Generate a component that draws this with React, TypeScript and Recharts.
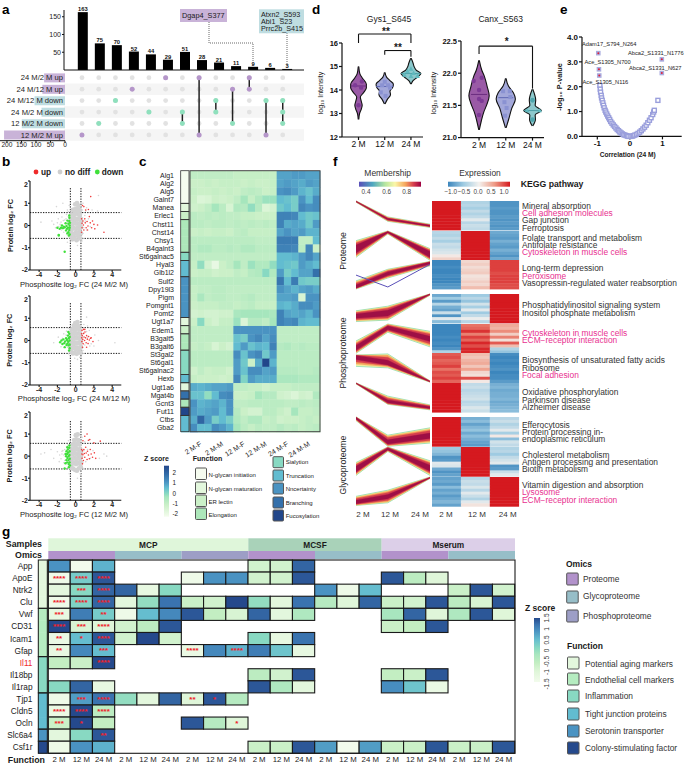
import React from "react";
import {
  Area, Bar, BarChart, Cell, ComposedChart, LabelList, Line, ReferenceArea, ReferenceLine,
  Scatter, ScatterChart, XAxis, YAxis,
} from "recharts";

const FONT = "'Liberation Sans', Arial, sans-serif";

/* ---------- panel a ---------- */
const upsetCounts = [163, 75, 70, 52, 44, 29, 51, 28, 21, 11, 9, 6, 3];
const upsetRows = ["24 M/2 M up", "24 M/12 M up", "24 M/12 M down", "24 M/2 M down", "12 M/2 M down", "12 M/2 M up"];
const upsetSetSizes = [72, 78, 105, 81, 149, 210];
const upsetRowKinds = ["up", "up", "down", "down", "down", "up"];
const upsetSets = [[5], [4], [2], [1], [3], [0], [3, 4], [0, 5], [2, 3], [1, 4], [0, 1], [2, 5], [2, 3, 4]];

/* ---------- panel b ---------- */
const b1Core = [[-.55,-.5],[-.35,-.62],[-.15,-.55],[.1,-.66],[.3,-.5],[.5,-.58],[-.58,-.3],[-.4,-.35],[-.2,-.4],[.02,-.33],[.22,-.38],[.42,-.3],[.56,-.36],[-.55,-.1],[-.38,-.15],[-.18,-.12],[.05,-.16],[.25,-.1],[.44,-.14],[.58,-.08],[-.57,.1],[-.36,.06],[-.16,.12],[.04,.08],[.24,.1],[.46,.05],[.57,.13],[-.52,.3],[-.33,.28],[-.14,.33],[.06,.28],[.26,.3],[.47,.34],[.56,.26],[-.46,.5],[-.28,.48],[-.1,.52],[.08,.55],[.28,.5],[.46,.5],[-.3,.7],[-.1,.72],[.1,.75],[.3,.7],[.45,.68],[-.05,.95],[.15,1.0],[.3,.88]];
const b1Grey = [[-3.8,.15],[-2.6,.2],[-2.2,-.1],[-1.9,.3],[-1.6,.15],[-1.3,-.3],[-2.4,.05],[-1,.5],[-.9,.7],[-1.2,.25],[-.8,.4],[-1.5,.38],[-.7,.9],[.8,1],[1.2,.8],[2.5,1.35],[1.8,.7],[2.4,.65],[-2.1,.85],[-.9,-.75],[.7,-.7],[.2,-.9],[1.1,.65],[.75,.7],[-1.4,1],[-.8,.62],[-1.7,.05],[-1.55,-.2],[-1.35,.22],[-1.2,-.12],[-1.05,.3],[-.95,-.4],[-.85,.15],[-.75,-.25],[-2,.12],[-1.85,-.05],[.75,.35],[.9,-.1],[1.05,.2],[1.2,-.2],[1.4,.3],[.8,-.35],[1.6,-.05],[1,.45]];
const b1Green = [[-.65,-.4],[-.7,-.2],[-.66,0],[-.7,.2],[-.68,.35],[-.8,-.3],[-.85,-.1],[-.8,.08],[-.9,.22],[-.95,-.15],[-1,-.02],[-1.05,-.22],[-1.1,.1],[-1.2,-.08],[-1.3,-.05],[-1.4,-.12],[-1.5,0],[-1.6,-.1],[-1.75,-.15],[-1.85,-.42],[-2,-.1],[-1.85,-.45],[-1.2,-1.18],[-.75,-.45],[-.7,.45],[-.65,-.1],[-.9,-.35],[-.62,.12]];
const b1Red = [[.65,.3],[.7,.1],[.7,-.1],[.8,.2],[.85,.02],[.9,-.2],[1,.3],[1.05,.12],[1.15,-.1],[1.25,.18],[1.35,-.02],[1.5,.4],[1.6,.12],[1.75,-.1],[1.85,.2],[2,.05],[2.1,-.15],[.75,.9],[.9,.85],[1.1,.7],[1.4,.72],[1.65,1.3],[3.1,-.3],[2.4,.02],[.65,-.3],[1.3,-.2]];
const b2Core = [[-.55,-.5],[-.3,-.58],[-.1,-.55],[.12,-.6],[.35,-.52],[.55,-.55],[-.57,-.32],[-.38,-.36],[-.18,-.3],[.03,-.38],[.25,-.32],[.45,-.36],[.58,-.3],[-.56,-.1],[-.36,-.14],[-.16,-.08],[.05,-.14],[.27,-.1],[.46,-.12],[.58,-.06],[-.55,.12],[-.34,.08],[-.14,.14],[.06,.1],[.26,.12],[.45,.08],[.56,.14],[-.5,.32],[-.3,.3],[-.1,.34],[.1,.3],[.3,.32],[.48,.3],[-.4,.5],[-.18,.52],[0,.5],[.22,.55],[.42,.5],[-.2,.66],[.05,.7],[.3,.64],[-.05,.78],[.2,.82]];
const b2Grey = [[-2.4,-.1],[-1.9,.15],[-1.6,-.28],[-1.3,.3],[-1,.42],[-.8,.55],[-.75,-.6],[1.7,-.15],[2.1,.25],[2.5,0],[2,-.25],[4.3,-.1],[1.2,.4],[1.3,.65],[.9,.72],[1.2,1.05],[.8,-.45],[1.5,.45],[.2,-.85],[.45,-.75],[-.1,-.8],[-1.45,.1],[-1.2,-.1],[-1.05,.25],[-.9,-.3],[-.75,.1],[-.7,-.22],[.7,-.25],[.8,.3],[1,-.2],[1.3,.15],[1.55,-.25]];
const b2Green = [[-.65,-.35],[-.66,-.18],[-.68,0],[-.65,.16],[-.7,.3],[-.78,-.22],[-.82,-.06],[-.76,.1],[-.85,.22],[-.9,-.14],[-.95,.02],[-1,-.2],[-1.05,.1],[-1.15,-.04],[-1.25,-.12],[-1.35,.05],[-1.45,-.16],[-1.55,0],[-1.7,-.08],[-1.2,-.3],[-.72,-.45],[-.8,.38]];
const b2Red = [[.65,.3],[.66,.12],[.68,-.05],[.72,.22],[.78,.05],[.82,-.15],[.88,.32],[.92,.16],[.98,0],[1.02,.38],[1.08,.12],[1.15,-.1],[1.2,.22],[1.28,.06],[1.36,-.14],[1.42,.18],[1.5,.02],[1.62,.1],[.7,.45],[.85,.5],[1,.5],[.75,-.3],[1.2,-.3],[1.9,-.05],[1.7,.12]];
const b3Core = [[-.55,-.5],[-.3,-.56],[-.08,-.62],[.14,-.66],[.36,-.55],[.56,-.5],[-.57,-.3],[-.37,-.35],[-.16,-.3],[.04,-.36],[.25,-.3],[.44,-.34],[.58,-.28],[-.56,-.1],[-.36,-.12],[-.15,-.07],[.06,-.13],[.27,-.08],[.47,-.12],[.58,-.04],[-.55,.12],[-.34,.1],[-.13,.14],[.08,.1],[.28,.12],[.46,.08],[.57,.15],[-.5,.32],[-.28,.3],[-.08,.36],[.12,.32],[.32,.3],[.5,.32],[-.38,.52],[-.16,.54],[.04,.5],[.24,.56],[.44,.52],[-.15,.72],[.08,.76],[.3,.72],[.02,.95],[.22,.98]];
const b3Grey = [[-3.8,.1],[-3.4,.15],[-2.7,.3],[-2.4,-.1],[-2,.2],[-1.8,-.25],[-1.5,.1],[-1.3,-.3],[-1.2,.3],[-1,.42],[-.85,.5],[-.8,.7],[.7,.85],[1,.65],[-.7,-.8],[.5,-.8],[.2,-1],[3.1,.1],[2.6,-.1],[3.4,0],[-1.5,.22],[-1.75,.05],[-1.1,.12],[-1.3,.05],[-1.6,-.12],[-1.4,.25],[-1.2,-.2],[-1.05,-.35],[-.9,.2],[-.75,-.4],[.75,-.3],[.9,.25],[1.1,-.25],[1.3,.3],[1.6,-.1],[1.9,.25]];
const b3Green = [[-.62,-.42],[-.66,-.28],[-.64,-.12],[-.68,.05],[-.66,.22],[-.7,.38],[-.76,-.36],[-.8,-.18],[-.78,0],[-.82,.16],[-.86,.3],[-.92,-.28],[-.9,-.08],[-.94,.1],[-1,.22],[-1.02,-.18],[-1.05,0],[-1.1,.1],[-1.12,-.32],[-.75,-.5],[-1.2,-.56],[-.68,.48],[-.9,.4]];
const b3Red = [[.65,.3],[.68,.1],[.7,-.1],[.74,.24],[.8,.06],[.85,-.2],[.9,.3],[.95,.12],[1,-.05],[1.1,.4],[1.15,.14],[1.25,-.15],[1.3,.22],[1.4,.05],[1.5,-.12],[1.6,.3],[1.7,.1],[1.85,-.05],[2.05,.15],[2.2,-.1],[.8,.7],[1,.9],[1.25,1],[1.4,.72],[1.55,.75],[2,.6],[2.7,.68],[.75,-.35]];
const bPlots = [
  { y0: 181, y1: 270, core: b1Core, grey: b1Grey, green: b1Green, red: b1Red, vTop: 1.7, label: "Phosphosite log₂ FC (24 M/2 M)" },
  { y0: 295.7, y1: 384.7, core: b2Core, grey: b2Grey, green: b2Green, red: b2Red, vTop: 1.7, label: "Phosphosite log₂ FC (24 M/12 M)" },
  { y0: 411.7, y1: 500, core: b3Core, grey: b3Grey, green: b3Green, red: b3Red, vTop: 1.65, label: "Phosphosite log₂ FC (12 M/2 M)" },
];

/* ---------- panel c ---------- */
const cGenes = ["Alg1","Alg2","Alg5","Galnt7","Manea","Erlec1","Chst11","Chst14","Chsy1","B4galnt3","St6galnac5","Hyal3","Glb1l2","Sulf2","Dpy19l3","Pigm","Pomgnt1","Pomt2","Ugt1a7","Edem1","B3galt5","B3galt6","St3gal2","St6gal1","St6galnac2","Hexb","Ugt1a6","Mgat4b","Gcnt3","Fut11","Ctbs","Gba2"];
const cGroups = ["2 M-F", "2 M-M", "12 M-F", "12 M-M", "24 M-F", "24 M-M"];
const cMatrix = [
  [-.8,-.8,-.8,-.8,-.8,-.8,-.9,-.9,-.9,-.9,-.9,-.9,.8,.8,.9,.9,.8,.8],
  [-1,-1,-.9,-1,-.9,-.9,-.9,-1,-.9,-1,-1,-.9,.8,.9,.8,.7,.9,.8],
  [-.9,-1,-1,-.9,-1,-.9,-1,-.8,-.7,-.8,-1,-.9,1,1.1,.9,.6,.4,.7],
  [-1,-1.4,-1.3,-1,-1.1,-1,-.8,-.3,-.9,-.5,-.2,-.2,.5,.4,.2,1,.5,1.1],
  [-1.1,-1,-.8,-.3,-.7,-1.3,-.5,-.6,-.1,-.6,-1.4,-1.2,.3,.5,.2,1.2,1,1.1],
  [-.7,-.8,-.7,-.8,-.7,-.8,-.8,-.9,-.9,-1,-1,-1,1.3,1.3,1.2,.5,.3,.4],
  [-.7,-.7,-.8,-.7,-.7,-.8,-.7,-.8,-.7,-.8,-.7,-.8,1.3,.7,.8,.7,.3,.9],
  [-1,-.9,-1,-.9,-.9,-1,-.8,-.7,-.9,-.9,-.9,-.9,.8,1,.8,.9,.6,.6],
  [-.7,-.7,-.7,-.7,-.7,-.7,-.7,-.7,-.7,-.8,-.8,-.8,1.4,1.4,1.4,-.8,-.8,.5],
  [-.7,-.5,-.5,-.7,-.7,-.6,-.7,-.5,-.5,-.7,-.7,-.7,1.3,1.3,1.2,-.7,1.2,-1],
  [-.8,-.8,-.8,-.8,-.8,-.8,-.8,-.8,-.8,-.8,-.8,-.8,.5,.5,.6,.9,1.2,.8],
  [-.9,-.1,-1.2,-1.7,-1,-.8,-.3,-.8,-.2,-.5,-.5,-.1,.5,.4,.3,.9,.7,.5],
  [-1,-.9,-.9,-1.1,-1,-1,-.8,-.9,-.6,-.5,0,-.5,.9,.2,.5,.8,.8,1.6],
  [-.7,-.7,-.7,-.7,-.7,-.7,-.7,-.7,-.7,-.7,-.7,-.7,1.5,.5,1.4,.3,.2,.2],
  [-.9,-.8,-.8,-.7,-.7,-.8,-.8,-.8,-.8,-.8,-.8,-.8,1,.8,.6,.8,.9,.7],
  [-.9,-.4,-.8,-.7,-.7,-.8,-.8,-.7,-.6,-.8,-.8,-.8,.8,.8,.9,-1.3,1,1],
  [-1,-.9,-.9,-.9,-.8,-.8,-.9,-.8,-.7,-.9,-.9,-.9,.6,.5,.7,1.1,1.1,.9],
  [-1.2,-1.1,-1.2,-1.2,-1.1,-1.1,-.4,-.3,-.3,-.3,-.3,-.4,1.3,.8,.7,.8,.6,1],
  [-1,0,-1,-1.2,-.9,-.9,-.2,-1.4,-.6,-.6,-.8,-.3,1.3,1.1,1.2,.6,.5,.5],
  [-.8,-.8,-.8,-.8,-.8,-.8,1,1,1,1,1,1,-.8,-.8,-.8,-.8,-.8,-.8],
  [-.8,-.8,-.8,-.8,-.8,-.8,.4,.2,1,1.2,.8,1.1,-.8,-.8,-.8,-.8,-.8,-.8],
  [-.9,-.8,-.9,-1.3,-1,-1.2,.5,.9,.4,.6,.5,1.3,-.6,-.5,-.7,-.6,-.7,-.7],
  [-.7,-.7,-.7,-.7,-.7,-.7,1.1,.4,1,1.2,.3,.9,-.7,-.7,-.7,-.7,-.7,-.7],
  [-.7,-.7,-.7,-.7,-.7,-.7,.9,.3,-1,.7,2.4,.6,-.7,-.7,-.7,-.7,-.7,-.7],
  [-1.1,-.8,-1,-.9,-.9,-1.1,.9,.4,1.1,1.1,.8,.9,-.6,-.6,-.6,-.7,-.7,-.6],
  [-.9,-1,-1,-1,-1.1,-1,1.2,.1,.9,.7,.7,.7,-.4,-.4,-.4,-.5,-.5,-.5],
  [.7,.6,.7,.8,.8,.9,-.8,-.8,-.9,-.9,-1.1,-.9,-.9,-.9,-.8,-.8,-.8,-.8],
  [.4,.4,-.1,.5,1.1,1.2,-1,-1,-.9,-.3,-.6,-.6,-1.1,-1.2,-1.4,-1.1,-1.2,-.5],
  [1,.6,.7,.8,.6,1,-.8,-.8,-.7,-.7,-.7,-.7,-.7,-.8,-.8,-.7,-.8,-.7],
  [.9,.7,.8,.9,.5,1,-.6,-1,-1.2,-1.2,-.7,-.7,-.9,-1.1,-.3,-.9,-.9,-.8],
  [.7,1.8,.9,.2,.5,.2,-.5,-.8,-.5,-.5,-.9,-.8,-1.1,-1,-1,-.9,-.8,-.9],
  [1.1,.5,.5,1.1,.9,.6,-.3,-.7,-.9,-.7,-.8,-.8,-.6,-.8,-.7,-.9,-.8,-.7],
];
const cFunctions = ["N-glycan initiation","N-glycan maturation","ER lectin","Elongation","Sialytion","Truncation","Nncertainty","Branching","Fucosylation"];
const cFunctionColors = ["#f6fcf0","#e3f7dd","#cbf0c8","#ade7ba","#88d9c2","#62bcd0","#4a93c2","#3470ab","#22468a"];
const cRowFunction = [0,0,0,0,1,2,3,3,3,3,4,5,5,6,6,6,6,6,1,2,3,3,4,4,4,5,1,7,3,8,5,5];

/* ---------- panel d ---------- */
const gysViolins = [
  { pos: 0, y: [12.75,13,13.2,13.35,13.5,13.7,13.9,14.1,14.25,14.5,14.7,15], w: [.01,.04,.11,.14,.11,.07,.2,.3,.3,.15,.05,.01], fill: "#9a5aa6" },
  { pos: 1, y: [13.4,13.6,13.8,13.95,14.1,14.25,14.4,14.55,14.75], w: [.01,.1,.22,.2,.3,.33,.2,.07,.01], fill: "#a3a8da" },
  { pos: 2, y: [14.25,14.4,14.55,14.7,14.85,15,15.15,15.35], w: [.01,.08,.25,.38,.2,.12,.08,.01], fill: "#8cc8cc" },
];
const canxViolins = [
  { pos: 0, y: [21.12,21.25,21.4,21.5,21.65,21.8,21.95,22.05,22.2], w: [.01,.08,.18,.28,.38,.3,.2,.1,.01], fill: "#9a5aa6" },
  { pos: 1, y: [21.15,21.3,21.45,21.6,21.7,21.8,21.92], w: [.01,.12,.22,.36,.28,.1,.01], fill: "#a3a8da" },
  { pos: 2, y: [21.18,21.28,21.35,21.42,21.5,21.58,21.75], w: [.01,.11,.1,.33,.1,.12,.01], fill: "#8cc8cc" },
];
const gysCircles = [{x:.13,y:14.36},{x:-.13,y:14.2},{x:0,y:13.35},{x:.1,y:14.1}];
const gysSquares = [{x:1,y:14.35},{x:.9,y:14.2},{x:1.13,y:14.2},{x:.85,y:13.9},{x:1.03,y:13.75},{x:1.2,y:14.1}];
const gysTriangles = [{x:2,y:14.9},{x:1.75,y:14.65},{x:2.25,y:14.6},{x:2,y:14.6},{x:2.1,y:14.72},{x:1.87,y:14.8}];
const canxCircles = [{x:.1,y:21.93},{x:-.2,y:21.88},{x:0,y:21.74},{x:.1,y:21.57},{x:0,y:21.35},{x:0,y:21.6}];
const canxSquares = [{x:.9,y:21.72},{x:1.15,y:21.72},{x:1.17,y:21.63},{x:.95,y:21.55},{x:1.03,y:21.46},{x:.97,y:21.34}];
const canxCircles2 = [{x:2,y:21.58},{x:2,y:21.28}];
const canxTriangles = [{x:2.27,y:21.42},{x:1.8,y:21.42}];
const gysMedians = [14.17, 14.15, 14.7];
const canxMedians = [21.67, 21.62, 21.42];
const timeLabels = ["2 M", "12 M", "24 M"];

/* ---------- panel e ---------- */
const volcanoLeft = [[-.92,2.05],[-.91,1.9],[-.9,1.78],[-.88,1.65],[-.87,1.55],[-.85,1.45],[-.83,1.35],[-.81,1.25],[-.79,1.15],[-.76,1.05],[-.74,.98],[-.71,.9],[-.68,.82],[-.65,.75],[-.62,.68],[-.59,.6],[-.55,.53],[-.51,.46],[-.47,.4],[-.43,.34],[-.39,.28],[-.35,.23],[-.31,.18],[-.27,.14],[-.23,.1],[-.19,.07],[-.15,.05],[-.11,.03],[-.07,.01],[-.03,0]];
const volcanoRight = [[.03,0],[.07,.01],[.11,.03],[.15,.05],[.2,.08],[.25,.12],[.3,.17],[.35,.23],[.4,.3],[.45,.37],[.5,.45],[.55,.55],[.6,.65],[.65,.75],[.7,.88],[.73,.98],[.75,1.05],[.86,1.45]];
const volcanoHits = [[-.97,3.35],[-.95,2.7],[-.94,2.45],[.98,3.1],[.98,2.55]];
const volcanoLabels = [["Adam17_S794_N264",582,44],["Abca2_S1331_N1776",628,53],["Ace_S1305_N700",584.5,61.5],["Abca2_S1331_N627",629,68],["Ace_S1305_N116",582.5,82]];

/* ---------- panel f ---------- */
const fTimes = [0, .43, 1];
const fBlocks = [[201,230],[230.7,260],[260,289],[294,323],[323.7,353],[353.3,383],[383.3,412.5],[416.7,446],[446.7,476],[476.7,506]];
const ribbons = [
  [[.96,1,.3,.45,.09,.2],[.965,1,.31,.44,.1,.19],[.97,1,.33,.42,.11,.18],[.975,.995,.35,.4,.125,.165]],
  [[.1,.67,.9,1,0,.4],[.13,.64,.91,.995,.02,.38],[.18,.59,.92,.99,.05,.35],[.25,.52,.94,.98,.1,.3]],
  [[0,.28,.38,.68,.8,.95],[.01,.25,.4,.66,.81,.945],[.02,.2,.43,.63,.83,.94],[.03,.14,.47,.59,.86,.93]],
  [[.05,.42,.1,.58,.96,1],[.08,.39,.13,.55,.965,1],[.11,.36,.17,.51,.97,1],[.16,.31,.24,.44,.98,1]],
  [[0,.42,.72,1,.22,.75],[.02,.38,.74,.99,.26,.71],[.05,.33,.77,.97,.32,.66],[.1,.27,.81,.93,.4,.58]],
  [[.55,.93,.5,.97,.02,.06],[.62,.93,.53,.93,.022,.058],[.7,.93,.57,.86,.025,.055],[.78,.92,.6,.76,.03,.05]],
  [[.97,1,.27,.55,.08,.25],[.975,1,.28,.52,.09,.24],[.98,1,.29,.48,.1,.22],[.985,1,.32,.42,.13,.19]],
  [[.88,1,0,.38,.11,.63],[.89,1,.02,.35,.15,.59],[.91,1,.04,.3,.2,.54],[.93,.99,.08,.22,.27,.45]],
  [[.03,.47,.85,1,.03,.53],[.06,.44,.86,.995,.07,.5],[.1,.4,.88,.99,.11,.45],[.15,.34,.9,.97,.17,.38]],
  [[.03,.34,.12,.55,.95,1],[.04,.31,.15,.52,.955,.995],[.06,.27,.2,.47,.96,.99],[.09,.21,.26,.4,.97,.985]],
];
const ribbonFills = ["#f2f2a2", "#f5a45c", "#d53e4f", "#9e0f45"];
const ribbonStrokes = ["#8fdcae", "#f5d07a", "#e0554a", "#9e0f45"];
const outlierLine = [.48, .07, .85];
const fHeat = [
  [[1,-.4,-.9],[1,-.35,-.9],[1,-.45,-.85],[1,-.3,-.9],[1,-.4,-.9],[1,-.3,-.85],[1,-.1,-.9],[1,-.35,-.85],[1,-.25,-.9],[1,-.3,-.85]],
  [[-.35,1,-.75],[-.4,1,-.8],[-.3,1,-.85],[-.45,1,-.7],[-.25,1,-.8],[-.3,1,-.85],[-.2,1,-.7],[-.15,1,-.8],[.05,1,-.9],[.18,1,-.75]],
  [[-1,.15,.85],[-1,.2,.85],[-.95,.12,.85],[-1,.18,.85],[-1,.22,.8],[-.95,.08,.85],[-1,.12,.85],[-1,.2,.85],[-.9,.15,.8],[-.85,.3,.8]],
  [[-.75,-.5,1],[-.5,-.35,1],[-.85,-.55,1],[-.35,-.2,1],[-.7,-.45,1],[-.8,-.1,1],[-.25,-.5,1],[-.9,-.3,1],[-.1,-.05,1],[-.6,-.35,1]],
  [[-1,.65,.4],[-1,.7,.35],[-1,.9,.55],[-1,.6,.2],[-.95,.85,.6],[-1,.7,.1],[-.95,.95,.75],[-1,.8,.3],[-.9,.95,-.4],[-.4,.95,-.55]],
  [[.75,.3,-.95],[.8,.25,-1],[.7,.35,-.95],[.75,.4,-1],[.85,.25,-.95],[.65,.45,-.9],[.8,.15,-1],[.75,.1,-.95],[.85,.8,-.95],[.7,.05,-.85]],
  [[1,-.3,-.7],[1,-.25,-.65],[1,-.35,-.75],[1,-.3,-.7],[1,-.25,-.7],[1,-.2,-.65],[1,-.35,-.75],[1,-.3,-.7],[1,-.15,-.65],[1,-.25,-.6]],
  [[1,-.7,-.35],[1,-.6,-.25],[1,-.8,-.4],[1,-.65,-.3],[1,-.55,-.1],[1,-.75,-.45],[1,-.6,.05],[1,-.7,-.6],[1,-.8,-.2],[1,-.85,-.3]],
  [[-.5,1,-.4],[-.55,1,-.35],[-.65,1,-.5],[-.9,1,-.3],[-.85,1,-.2],[-.1,1,-.1],[-.15,1,-.9],[-.75,1,-.85],[-.9,1,-.25],[-.8,1,-.1]],
  [[-.8,-.35,1],[-.75,-.25,1],[-.85,-.3,1],[-.6,-.15,1],[-.8,-.35,1],[-.7,-.1,1],[-.85,-.25,1],[-.75,-.4,1],[-.65,-.1,1],[-.8,.08,1]],
];
const pathways = [
  ["Mineral absorption",205.7,0],["Cell adhesion molecules",213,1],["Gap junction",220.3,0],["Ferroptosis",227.7,0],
  ["Folate transport and metabolism",238.3,0],["Antifolate resistance",245.3,0],["Cytoskeleton in muscle cells",252.3,1],
  ["Long-term depression",268.3,0],["Peroxisome",275.7,1],["Vasopressin-regulated water reabsorption",282.7,0],
  ["Phosphatidylinositol signaling system",305.3,0],["Inositol phosphate metabolism",312.7,0],
  ["Cytoskeleton in muscle cells",332.7,1],["ECM−receptor interaction",340,1],
  ["Biosynthesis of unsaturated fatty acids",360,0],["Ribosome",367.7,0],["Focal adhesion",374.7,1],
  ["Oxidative phosphorylation",392,0],["Parkinson disease",399.7,0],["Alzheimer disease",406.7,0],
  ["Efferocytosis",424.7,0],["Protein processing in-",431.7,0],["endoplasmic reticulum",438.7,0],
  ["Cholesterol metabolism",454.7,0],["Antigen processing and presentation",461.7,0],["Biotin metabolism",469.3,0],
  ["Vitamin digestion and absorption",485,0],["Lysosome",492,1],["ECM−receptor interaction",499.7,1],
];

/* ---------- panel g ---------- */
const gGenes = ["App","ApoE","Ntrk2","Clu","Vwf","CD31","Icam1","Gfap","Il11","Il18bp","Il1rap","Tjp1","Cldn5","Ocln","Slc6a4","Csf1r"];
const n = null;
const gValues = [
  [.9,-1.5,.6, n,n,n, n,n,n, -.8,-.8,1.3, n,n,n, n,n,n, n,n,n],
  [-1.4,.3,1.4, n,n,n, -1.4,.9,.9, -.8,-.8,1.4, n,n,n, 1.4,-.5,-1, n,n,n],
  [-1.1,.1,1.3, 1.3,-1.2,.1, n,n,n, n,n,n, .9,-1.4,.5, n,n,n, -.7,1.4,-.8],
  [-1.4,.2,1.3, -1.1,0,1.2, -.7,-.8,1.5, 0,-1.1,1.2, -.4,-1,1.3, -.7,-.8,1.4, -.5,-.9,1.4],
  [-1.2,1.1,.3, -1.4,.5,1, 1.4,-.6,-.9, 1.3,-1.1,-.3, n,n,n, -.2,1.3,-1, -.3,1.4,-1],
  [1.5,-.9,-1, -.8,-.5,1.4, n,n,n, n,n,n, n,n,n, -.7,-.6,1.4, n,n,n],
  [-1.3,.5,1.4, -.8,1.5,-.8, n,n,n, .1,-1.2,1.2, n,n,n, n,n,n, n,n,n],
  [-1.2,1,.5, n,n,n, -1.3,1,.6, 1.1,.4,-1.2, n,n,n, n,n,n, n,n,n],
  [-.6,-.7,1.5, n,n,n, n,n,n, n,n,n, n,n,n, n,n,n, n,n,n],
  [n,n,n, n,n,n, n,n,n, -.5,-.8,1.4, n,n,n, -.6,-.7,1.4, n,n,n],
  [.1,1.3,-1.2, n,n,n, n,n,n, 1.4,-.3,-1.1, n,n,n, .95,.4,-1.3, n,n,n],
  [-1.4,.8,1.2, 0,-1.1,1.3, -1,1.4,-.4, n,n,n, n,n,n, n,n,n, n,n,n],
  [-1.3,1.5,-.5, n,n,n, n,n,n, n,n,n, n,n,n, n,n,n, n,n,n],
  [-.7,1.5,-.6, n,n,n, 1.4,-.4,-1, n,n,n, n,n,n, n,n,n, n,n,n],
  [-1.1,.1,1.4, n,n,n, n,n,n, n,n,n, n,n,n, n,n,n, n,n,n],
  [-1.4,.9,.6, n,n,n, n,n,n, -.7,-.7,1.4, .8,-1.5,.8, -.7,-.7,1.4, -.7,-.7,1.4],
];
const gStars = [
  [1,0,"****"],[1,1,"****"],[1,2,"****"],[2,1,"***"],[2,2,"****"],[3,0,"****"],[3,1,"****"],[3,2,"****"],
  [4,0,"***"],[4,2,"**"],[5,0,"****"],[5,1,"***"],[5,2,"****"],[6,0,"**"],[6,1,"*"],[6,2,"****"],
  [7,0,"**"],[7,2,"***"],[7,6,"****"],[7,8,"****"],[8,2,"****"],[11,1,"***"],[11,2,"****"],[11,6,"**"],[11,7,"*"],
  [12,0,"****"],[12,1,"****"],[12,2,"****"],[13,0,"***"],[13,1,"*"],[13,8,"*"],[14,2,"**"],
];
const gFunctions = ["Potential aging markers","Endothelial cell markers","Inflammation","Tight junction proteins","Serotonin transporter","Colony-stimulating factor"];
const gFunctionColors = ["#e3f7dd","#b5ecc0","#88d9c2","#62bcd0","#4a93c2","#25498c"];
const gRowFunction = [0,0,0,0,1,1,1,1,2,2,2,3,3,3,4,5];
const gSamples = [["MCP",9,"#dff6da"],["MCSF",6,"#a9d2b9"],["Mserum",6,"#dccfe8"]];
const gOmics = [["#b292cb",3],["#97bec8",3],["#9d9ec6",3],["#b292cb",3],["#97bec8",3],["#b292cb",3],["#97bec8",3]];
const omicsNames = [["Proteome","#b292cb",573,579],["Glycoproteome","#97bec8",591,596],["Phosphoproteome","#9d9ec6",610,616]];

/* ---------- colour helpers ---------- */
const mix = (stops: any[], v: number) => {
  if (v <= stops[0][0]) return stops[0][1];
  for (let i = 1; i < stops.length; i++) {
    if (v <= stops[i][0]) {
      const t = (v - stops[i - 1][0]) / (stops[i][0] - stops[i - 1][0]);
      const a = stops[i - 1][1], b = stops[i][1];
      const ch = (h: string, k: number) => parseInt(h.slice(1 + 2 * k, 3 + 2 * k), 16);
      const c = [0, 1, 2].map((k) => Math.round(ch(a, k) + (ch(b, k) - ch(a, k)) * t));
      return `rgb(${c.join(",")})`;
    }
  }
  return stops[stops.length - 1][1];
};
const cStops = [[-2,"#f4fcee"],[-1,"#cbf0c8"],[-.3,"#a6e6bd"],[0,"#88d9c2"],[.5,"#62bcd0"],[1,"#4a93c2"],[1.6,"#3470ab"],[2.4,"#22468a"]];
const gStops = [[-1.5,"#f2fbec"],[-1,"#dff6d9"],[-.6,"#c3eec2"],[-.2,"#a8e6bf"],[.1,"#88d9c2"],[.5,"#65bdcf"],[.9,"#4a92c2"],[1.2,"#3a73af"],[1.5,"#25498c"]];
const fStops = [[-1,"#3c86bd"],[-.5,"#9fcbe2"],[0,"#f3f1ee"],[.5,"#ee9a85"],[1,"#d5191f"]];

/* ---------- generic pieces ---------- */
const Box = ({ left, top, children }: any) => (
  <div style={{ position: "absolute", left, top }}>{children}</div>
);

const cellShape = (w: number, h: number, stroke?: string, sw = 0) => (p: any) => (
  <g>
    <rect x={p.cx - w / 2} y={p.cy - h / 2} width={w + (sw ? 0 : .4)} height={h + (sw ? 0 : .4)}
      fill={p.payload.fill} stroke={stroke || "none"} strokeWidth={sw} />
    {p.payload.stars ? (
      <text x={p.cx} y={p.cy + 2.6} textAnchor="middle" fontSize={8} fontWeight={700} fill="#f0222a" fontFamily={FONT}>{p.payload.stars}</text>
    ) : null}
  </g>
);

const HeatMap = ({ x0, y0, x1, y1, cols, rows, cells, stroke, sw = 0, yLabels, xTick, yTick, yw = 0, xh = 0, xTicks }: any) => {
  const W = x1 - x0, H = y1 - y0;
  return (
    <Box left={x0 - yw} top={y0}>
      <ScatterChart width={W + yw} height={H + xh} margin={{ top: 0, right: 0, bottom: 0, left: 0 }}>
        <XAxis type="number" dataKey="x" domain={[0, cols]} hide={!xTicks} ticks={xTicks} interval={0}
          height={xh} axisLine={false} tickLine={false} tick={xTick} />
        <YAxis type="number" dataKey="y" domain={[0, rows]} reversed hide={!yLabels} width={yw}
          ticks={yLabels ? yLabels.map((_: any, i: number) => i + .5) : undefined} interval={0}
          axisLine={false} tickLine={false} tickSize={0} tickMargin={0} tick={yTick} />
        <Scatter data={cells} isAnimationActive={false} shape={cellShape(W / cols, H / rows, stroke, sw)} />
      </ScatterChart>
    </Box>
  );
};

const T = ({ x, y, s = 7, w, c = "#1a1a1a", a = "start", r, children, ls }: any) => (
  <text x={x} y={y} fontSize={s} fontWeight={w} fill={c} textAnchor={a} dominantBaseline="central" letterSpacing={ls}
    transform={r != null ? `rotate(${r} ${x} ${y})` : undefined}>{children}</text>
);

const toPts = (arr: number[][]) => arr.map(([x, y]) => ({ x, y }));
const dot = (r: number, fill: string) => (p: any) => <circle cx={p.cx} cy={p.cy} r={r} fill={fill} />;
const runsOf = (arr: number[]) => {
  const out: number[][] = [];
  arr.forEach((v, i) => {
    if (i > 0 && arr[i - 1] === v) out[out.length - 1][1] = i + 1;
    else out.push([i, i + 1]);
  });
  return out;
};

/* ---------- panels ---------- */
const UpsetBars = () => {
  const data = upsetCounts.map((v, i) => ({ i: String(i), v }));
  return (
    <Box left={0} top={0}>
      <BarChart width={304} height={72} data={data} margin={{ top: 10, right: 0, bottom: 0, left: 0 }} barSize={10}>
        <XAxis dataKey="i" tick={false} height={2} stroke="#111" padding={{ left: 9.8, right: 8.8 }} tickLine={false} />
        <YAxis width={64} domain={[0, 169]} ticks={[0, 50, 100, 150]} stroke="#111"
          tick={{ fontSize: 7, fill: "#222" }} tickSize={2} tickMargin={1} />
        <Bar dataKey="v" fill="#000" isAnimationActive={false}>
          <LabelList dataKey="v" position="top" offset={1} style={{ fontSize: 5.8, fontWeight: 700, fill: "#111" }} />
        </Bar>
      </BarChart>
    </Box>
  );
};

const UpsetMatrix = () => {
  const grey: any[] = [];
  upsetCounts.forEach((_, x) => upsetRows.forEach((__, y) => grey.push({ x, y })));
  const shape = (p: any) => {
    const kind = upsetRowKinds[p.payload.y];
    return <circle cx={p.cx} cy={p.cy} r={2.5} fill={kind === "up" ? "#b596ca" : "#8fe0bd"} />;
  };
  return (
    <Box left={64} top={72}>
      <ScatterChart width={240} height={68.7} margin={{ top: 0, right: 0, bottom: 0, left: 0 }}>
        <XAxis type="number" dataKey="x" domain={[-1.075, 13.27]} hide />
        <YAxis type="number" dataKey="y" domain={[-.5, 5.5]} reversed hide />
        {[1, 3, 5].map((r) => (
          <ReferenceArea key={r} x1={-1.075} x2={13.27} y1={r - .5} y2={r + .5} fill="#f5f5f5" fillOpacity={1} stroke="none" />
        ))}
        <Scatter data={grey} isAnimationActive={false} shape={dot(2.4, "#e2e2e2")} />
        {upsetSets.map((set, x) => (
          <Scatter key={x} data={set.map((y) => ({ x, y }))} isAnimationActive={false}
            line={set.length > 1 ? { stroke: "#222", strokeWidth: 1.5 } : false} shape={shape} />
        ))}
      </ScatterChart>
    </Box>
  );
};

const UpsetSetBars = () => {
  const data = upsetRows.map((name, i) => ({ name, v: upsetSetSizes[i], kind: upsetRowKinds[i] }));
  return (
    <Box left={0} top={72}>
      <BarChart layout="vertical" width={65} height={81} data={data} margin={{ top: 0, right: 0, bottom: 0, left: 0 }} barCategoryGap="12%">
        <XAxis type="number" reversed domain={[0, 224]} ticks={[200, 150, 100, 50, 0]} height={12.3} interval={0}
          stroke="#111" tick={{ fontSize: 6.6, fill: "#222" }} tickSize={2} tickMargin={0} />
        <YAxis type="category" dataKey="name" hide />
        <Bar dataKey="v" isAnimationActive={false}>
          {data.map((d, i) => <Cell key={i} fill={d.kind === "up" ? "#c9b3d8" : "#bfdde1"} />)}
        </Bar>
      </BarChart>
    </Box>
  );
};

const VolcanoPlot = () => {
  const x0 = 582, x1 = 681.7, y0 = 37.3, y1 = 136.7, yw = 30, xh = 13;
  const sq = (p: any) => <rect x={p.cx - 2} y={p.cy - 2} width={4} height={4} fill="#fff" stroke="#9a9fdc" strokeWidth={1.4} />;
  const hit = (p: any) => (
    <g>
      <rect x={p.cx - 2.3} y={p.cy - 2.3} width={4.6} height={4.6} fill="#a9acdf" />
      <circle cx={p.cx} cy={p.cy} r={1} fill="#e0203a" />
    </g>
  );
  const tick = { fontSize: 8, fontWeight: 700, fill: "#111" };
  return (
    <Box left={x0 - yw} top={y0 - 5}>
      <ScatterChart width={x1 - x0 + yw + 3} height={y1 - y0 + 5 + xh} margin={{ top: 5, right: 3, bottom: 0, left: 0 }}>
        <XAxis type="number" dataKey="x" domain={[-1.47, 1.59]} ticks={[-1, 0, 1]} height={xh} stroke="#111" strokeWidth={1.2} tick={tick} tickSize={3} tickMargin={1} />
        <YAxis type="number" dataKey="y" domain={[0, 4]} ticks={[0, 1, 2, 3, 4]} width={yw} stroke="#111" strokeWidth={1.2} tick={tick}
          tickFormatter={(v: number) => v.toFixed(1)} tickSize={3} tickMargin={1} />
        <Scatter data={toPts(volcanoLeft)} isAnimationActive={false} shape={sq} />
        <Scatter data={toPts(volcanoRight)} isAnimationActive={false} shape={sq} />
        <Scatter data={toPts(volcanoHits)} isAnimationActive={false} shape={hit} />
      </ScatterChart>
    </Box>
  );
};

const PhosphoScatter = ({ plot }: any) => {
  const x0 = 30, x1 = 121.3, yw = 30, xh = 12;
  const { y0, y1 } = plot;
  const tick = { fontSize: 7, fontWeight: 700, fill: "#222" };
  const dash = { stroke: "#111", strokeWidth: 1, strokeDasharray: "1.3 1.3" };
  return (
    <Box left={0} top={y0}>
      <ScatterChart width={x1 - x0 + yw} height={y1 - y0 + xh} margin={{ top: 0, right: 0, bottom: 0, left: 0 }}>
        <XAxis type="number" dataKey="x" domain={[-5, 5]} ticks={[-4, -2, 0, 2, 4]} height={xh} stroke="#111" strokeWidth={1.1} tick={tick} tickSize={2} tickMargin={0} />
        <YAxis type="number" dataKey="y" domain={[-2, 2]} ticks={[-2, -1, 0, 1, 2]} width={yw} stroke="#111" strokeWidth={1.1} tick={tick} tickSize={2} tickMargin={0} />
        <Scatter data={toPts(plot.grey)} isAnimationActive={false} shape={dot(.8, "#d6d6d6")} />
        <Scatter data={toPts(plot.core)} isAnimationActive={false} shape={dot(2.4, "#d2d2d2")} />
        <Scatter data={toPts(plot.green)} isAnimationActive={false} shape={dot(1.2, "#3fe03a")} />
        <Scatter data={toPts(plot.red)} isAnimationActive={false} shape={dot(.8, "#ef3a3a")} />
        <ReferenceLine y={.58} {...dash} />
        <ReferenceLine y={-.58} {...dash} />
        <ReferenceLine segment={[{ x: -.58, y: -2 }, { x: -.58, y: plot.vTop }]} {...dash} />
        <ReferenceLine segment={[{ x: .58, y: -2 }, { x: .58, y: plot.vTop }]} {...dash} />
      </ScatterChart>
    </Box>
  );
};

const ViolinPlot = ({ x0, x1, y0, y1, xDomain, yDomain, yTicks, fmt, violins, medians, brackets, series }: any) => {
  const yw = 30, xh = 14;
  const W = x1 - x0 + yw + 6, H = y1 - y0 + 10 + xh;
  return (
    <>
      {violins.map((v: any, i: number) => (
        <Box key={i} left={x0 - yw} top={y0 - 10}>
          <ComposedChart layout="vertical" width={W} height={H} data={v.y.map((y: number, k: number) => ({ y, band: [v.pos - v.w[k], v.pos + v.w[k]] }))}
            margin={{ top: 10, right: 6, bottom: xh, left: yw }}>
            <XAxis type="number" domain={xDomain} hide />
            <YAxis type="number" dataKey="y" domain={yDomain} hide reversed />
            <Area dataKey="band" type="monotone" fill={v.fill} fillOpacity={1} stroke="#111" strokeWidth={1.1} dot={false} activeDot={false} isAnimationActive={false} />
          </ComposedChart>
        </Box>
      ))}
      <Box left={x0 - yw} top={y0 - 10}>
        <ScatterChart width={W} height={H} margin={{ top: 10, right: 6, bottom: 0, left: 0 }}>
          <XAxis type="number" dataKey="x" domain={xDomain} ticks={[0, 1, 2]} interval={0} height={xh} stroke="#111" strokeWidth={1.2}
            tick={{ fontSize: 8.5, fill: "#111" }} tickFormatter={(v: number) => timeLabels[v]} tickSize={3} tickMargin={1} />
          <YAxis type="number" dataKey="y" domain={yDomain} ticks={yTicks} width={yw} stroke="#111" strokeWidth={1.2}
            tick={{ fontSize: 7.5, fontWeight: 600, fill: "#111" }} tickFormatter={fmt} tickSize={3} tickMargin={1} />
          {series.map((s: any, i: number) => <Scatter key={i} data={s.data} isAnimationActive={false} shape={s.shape} />)}
          {medians.map((m: number, i: number) => (
            <ReferenceLine key={i} segment={[{ x: violins[i].pos - violins[i].w[violins[i].y.findIndex((yy: number) => yy >= m)], y: m }, { x: violins[i].pos + violins[i].w[violins[i].y.findIndex((yy: number) => yy >= m)], y: m }]}
              stroke={violins[i].fill === "#9a5aa6" ? "#6a2d7e" : violins[i].fill === "#a3a8da" ? "#5f68b5" : "#4d9fa5"} strokeWidth={1} ifOverflow="visible" />
          ))}
          {brackets.map((b: number[][], i: number) => b.slice(1).map((pt, k) => (
            <ReferenceLine key={`${i}-${k}`} segment={[{ x: b[k][0], y: b[k][1] }, { x: pt[0], y: pt[1] }]} stroke="#111" strokeWidth={1.1} ifOverflow="visible" />
          )))}
        </ScatterChart>
      </Box>
    </>
  );
};

const Ribbon = ({ idx }: any) => {
  const [top, bottom] = fBlocks[idx];
  const bands = ribbons[idx];
  const data = fTimes.map((pos, t) => {
    const row: any = { pos };
    bands.forEach((b, k) => { row[`b${k}`] = [b[t * 2], b[t * 2 + 1]]; });
    if (idx === 2) row.outlier = outlierLine[t];
    return row;
  });
  return (
    <Box left={356} top={top}>
      <ComposedChart width={74} height={bottom - top} data={data} margin={{ top: 0, right: 0, bottom: 0, left: 0 }}>
        <XAxis type="number" dataKey="pos" domain={[0, 1]} hide />
        <YAxis type="number" domain={[0, 1]} hide />
        {idx === 2 ? <Line dataKey="outlier" stroke="#5a4fb8" strokeWidth={1} dot={false} activeDot={false} isAnimationActive={false} /> : null}
        {bands.map((_, k) => (
          <Area key={k} dataKey={`b${k}`} type="linear" fill={ribbonFills[k]} fillOpacity={1}
            stroke={ribbonStrokes[k]} strokeWidth={k === 0 ? .8 : .4} dot={false} activeDot={false} isAnimationActive={false} />
        ))}
      </ComposedChart>
    </Box>
  );
};

const matrixCells = (m: any[][], color: (v: number) => string, stars?: any[]) => {
  const out: any[] = [];
  m.forEach((row, r) => row.forEach((v, c) => {
    if (v == null) return;
    const st = stars ? stars.find((s) => s[0] === r && s[1] === c) : null;
    out.push({ x: c + .5, y: r + .5, fill: color(v), stars: st ? st[2] : undefined });
  }));
  return out;
};

const Swatch = ({ x, y, w, h, fill }: any) => (
  <rect x={x} y={y} width={w} height={h} rx={1} fill={fill} stroke="#555" strokeWidth={1} />
);

export default function App() {
  const colToX = (i: number) => 48.3 + (i * 466.7) / 21;
  const gTicks = Array.from({ length: 21 }, (_, i) => i + .5);
  let sampleStart = 0;
  let omicsStart = 0;
  return (
    <div style={{ position: "fixed", left: 0, top: 0, width: 685, height: 765, background: "#fff", fontFamily: FONT, overflow: "hidden" }}>
      <style>{`.recharts-surface{overflow:visible} .recharts-wrapper{overflow:visible} text{font-family:${FONT}}`}</style>

      {/* a */}
      <UpsetBars />
      <UpsetMatrix />
      <UpsetSetBars />

      {/* b */}
      {bPlots.map((p, i) => <PhosphoScatter key={i} plot={p} />)}

      {/* c */}
      <HeatMap x0={190} y0={170.7} x1={320} y1={431.7} cols={18} rows={32} yw={50} xh={24}
        cells={matrixCells(cMatrix, (v) => mix(cStops, v))}
        yLabels={cGenes}
        yTick={(p: any) => <text x={p.x - 16} y={p.y} fontSize={7} fill="#222" textAnchor="end" dominantBaseline="central">{cGenes[Math.floor(p.payload.value)]}</text>}
        xTicks={[1.5, 4.5, 7.5, 10.5, 13.5, 16.5]}
        xTick={(p: any) => <text x={p.x} y={p.y + 3} fontSize={7} fill="#222" textAnchor="end" dominantBaseline="central" transform={`rotate(-32 ${p.x} ${p.y + 3})`}>{cGroups[Math.floor(p.payload.value / 3)]}</text>}
      />
      <HeatMap x0={180.7} y0={170.7} x1={189} y1={431.7} cols={1} rows={32}
        cells={cRowFunction.map((f, r) => ({ x: .5, y: r + .5, fill: cFunctionColors[f] }))} />

      {/* d */}
      <ViolinPlot x0={341.7} x1={422.7} y0={43.3} y1={137.3} xDomain={[-.63, 2.46]} yDomain={[12, 16]} yTicks={[12, 13, 14, 15, 16]}
        fmt={(v: number) => String(v)} violins={gysViolins} medians={gysMedians}
        brackets={[[[0, 16], [0, 16.38], [2, 16.38], [2, 16]], [[1, 15.5], [1, 15.68], [2, 15.68], [2, 15.42]]]}
        series={[
          { data: gysCircles, shape: dot(2.2, "#7d3a96") },
          { data: gysSquares, shape: (p: any) => <rect x={p.cx - 2} y={p.cy - 2} width={4} height={4} fill="#8a92d2" /> },
          { data: gysTriangles, shape: (p: any) => <path d={`M${p.cx},${p.cy - 2.6}L${p.cx + 2.4},${p.cy + 2}L${p.cx - 2.4},${p.cy + 2}Z`} fill="#5fb8bd" /> },
        ]} />
      <ViolinPlot x0={461} x1={544} y0={40.7} y1={137.3} xDomain={[-.675, 2.43]} yDomain={[21, 22.5]} yTicks={[21, 21.5, 22, 22.5]}
        fmt={(v: number) => v.toFixed(1)} violins={canxViolins} medians={canxMedians}
        brackets={[[[0, 22.3], [0, 22.42], [2, 22.42], [2, 21.76]]]}
        series={[
          { data: canxCircles, shape: dot(2.2, "#7d3a96") },
          { data: canxSquares, shape: (p: any) => <rect x={p.cx - 2} y={p.cy - 2} width={4} height={4} fill="#8a92d2" /> },
          { data: canxCircles2, shape: dot(2.4, "#4fa6ad") },
          { data: canxTriangles, shape: (p: any) => <path d={`M${p.cx},${p.cy - 2.4}L${p.cx + 2.2},${p.cy + 1.8}L${p.cx - 2.2},${p.cy + 1.8}Z`} fill="#5fb8bd" /> },
        ]} />

      {/* e */}
      <VolcanoPlot />

      {/* f */}
      {fBlocks.map((_, i) => <Ribbon key={i} idx={i} />)}
      {fBlocks.map(([top, bottom], i) => (
        <HeatMap key={i} x0={432.3} y0={top} x1={519} y1={bottom} cols={3} rows={10}
          cells={matrixCells(fHeat[i], (v) => mix(fStops, v))} />
      ))}

      {/* g */}
      <HeatMap x0={48.3} y0={560} x1={515} y1={753.3} cols={21} rows={16} yw={48} xh={11}
        cells={matrixCells(gValues, (v) => mix(gStops, v), gStars)} stroke="#1a1a1a" sw={1.1}
        yLabels={gGenes}
        yTick={(p: any) => { const g = gGenes[Math.floor(p.payload.value)]; return <text x={p.x - 15.5} y={p.y} fontSize={8.3} fill={g === "Il11" ? "#ef2b2b" : "#222"} textAnchor="end" dominantBaseline="central">{g}</text>; }}
        xTicks={gTicks}
        xTick={(p: any) => <text x={p.x} y={p.y - 1.5} fontSize={7.8} fill="#222" textAnchor="middle" dominantBaseline="central">{timeLabels[Math.floor(p.payload.value) % 3]}</text>}
      />
      <HeatMap x0={38.3} y0={560} x1={47.3} y1={753.3} cols={1} rows={16}
        cells={gRowFunction.map((f, r) => ({ x: .5, y: r + .5, fill: gFunctionColors[f] }))} />

      {/* text, callouts, legends */}
      <svg width={685} height={765} style={{ position: "absolute", left: 0, top: 0, pointerEvents: "none", fontFamily: FONT }}>
        <defs>
          <linearGradient id="mem"><stop offset="0" stopColor="#5a4fb8" /><stop offset=".22" stopColor="#4fa8c0" /><stop offset=".42" stopColor="#b6e6a0" /><stop offset=".58" stopColor="#fbf7a8" /><stop offset=".75" stopColor="#f5a45c" /><stop offset=".88" stopColor="#d53e4f" /><stop offset="1" stopColor="#9e0142" /></linearGradient>
          <linearGradient id="exp"><stop offset="0" stopColor="#3c86bd" /><stop offset=".25" stopColor="#9fcbe2" /><stop offset=".5" stopColor="#f3f1ee" /><stop offset=".75" stopColor="#ee9a85" /><stop offset="1" stopColor="#d5191f" /></linearGradient>
          <linearGradient id="cz" x1="0" y1="1" x2="0" y2="0">{cStops.map((s: any, i) => <stop key={i} offset={(s[0] + 2) / 4.4} stopColor={s[1]} />)}</linearGradient>
          <linearGradient id="gz" x1="0" y1="1" x2="0" y2="0">{gStops.map((s: any, i) => <stop key={i} offset={(s[0] + 1.5) / 3} stopColor={s[1]} />)}</linearGradient>
        </defs>

        {/* panel letters */}
        {[["a", 2, 9], ["b", 2, 161], ["c", 139, 161], ["d", 312, 9], ["e", 560, 9], ["f", 333, 161], ["g", 2, 531]].map(([l, x, y]: any) => (
          <T key={l} x={x} y={y} s={13.5} w={700} c="#000">{l}</T>
        ))}

        {/* a labels */}
        {upsetRows.map((l, i) => <T key={l} x={63} y={77.7 + i * 11.46} s={7.6} a="end" c="#222">{l}</T>)}
        <polyline points="209,22 209,43 253,43 253,66" fill="none" stroke="#444" strokeWidth={.8} strokeDasharray="1 1" />
        <line x1={287} y1={33} x2={287} y2={66} stroke="#444" strokeWidth={.8} strokeDasharray="1 1" />
        <rect x={180} y={9} width={47} height={13} fill="#c9b3d8" />
        <T x={182} y={15.6} s={7.3}>Dgap4_S377</T>
        <rect x={259} y={9.3} width={45} height={24} fill="#bfdde1" />
        <T x={261} y={14.5} s={7.2}>Atxn2_S593</T>
        <T x={261} y={21.5} s={7.2}>Abi1_S23</T>
        <T x={261} y={28.5} s={7.2}>Prrc2b_S415</T>

        {/* b legend + labels */}
        <circle cx={36} cy={172} r={2.4} fill="#ef2b2b" /><T x={41} y={171.7} s={8.3} w={600}>up</T>
        <circle cx={60} cy={172} r={2.4} fill="#cfcfcf" /><T x={65} y={171.7} s={8.3} w={600}>no diff</T>
        <circle cx={97.3} cy={172} r={2.4} fill="#3fe03a" /><T x={101.7} y={171.7} s={8.3} w={600}>down</T>
        {bPlots.map((p) => (
          <g key={p.label}>
            <T x={74} y={p.y1 + 14} s={7.6} a="middle" c="#222">{p.label}</T>
            <T x={10} y={(p.y0 + p.y1) / 2} s={7.3} w={600} a="middle" r={-90}>Protein log₂ FC</T>
          </g>
        ))}

        {/* c annotation borders + frame */}
        {runsOf(cRowFunction).map(([a, b], i) => (
          <rect key={i} x={180.7} y={170.7 + a * 8.156} width={8.3} height={(b - a) * 8.156} fill="none" stroke="#333" strokeWidth={.8} />
        ))}
        <rect x={190} y={170.7} width={130} height={261} fill="none" stroke="#444" strokeWidth={1} />

        {/* c legends */}
        <T x={156.5} y={458} s={7} w={700} a="middle">Z score</T>
        <rect x={164} y={465.7} width={5} height={51} fill="url(#cz)" />
        {[[2, 472.7], [1, 482.7], [0, 493], [-1, 503], [-2, 513]].map(([v, y]) => <T key={v} x={172.5} y={y} s={6.3}>{v < 0 ? `-${-v}` : v}</T>)}
        <T x={192.7} y={458} s={7} w={700}>Function</T>
        {[468, 482, 495, 508].map((y, i) => <Swatch key={i} x={195.5} y={y} w={11} h={11.5} fill={cFunctionColors[i]} />)}
        {[475, 488.7, 501.7, 515].map((y, i) => <T key={i} x={208.5} y={y} s={6}>{cFunctions[i]}</T>)}
        {[456.7, 470, 483, 497, 510].map((y, i) => <Swatch key={i} x={273} y={y} w={10.5} h={11} fill={cFunctionColors[i + 4]} />)}
        {[462.3, 476, 489, 502.7, 516].map((y, i) => <T key={i} x={285.7} y={y} s={6}>{cFunctions[i + 4]}</T>)}

        {/* d labels */}
        <T x={389} y={19} s={8.5} w={500} a="middle">Gys1_S645</T>
        <T x={500.7} y={19} s={8.5} w={500} a="middle">Canx_S563</T>
        <T x={320} y={93} s={7} a="middle" r={-90}>log₁₀ Intensity</T>
        <T x={433} y={93} s={7} a="middle" r={-90}>log₁₀ Intensity</T>
        <T x={386} y={31.5} s={10} w={700} a="middle">**</T>
        <T x={398} y={47.5} s={10} w={700} a="middle">**</T>
        <T x={506.7} y={41} s={10} w={700} a="middle">*</T>

        {/* e labels */}
        {volcanoLabels.map(([t, x, y]: any) => <T key={t} x={x} y={y} s={5.7}>{t}</T>)}
        <T x={559} y={87} s={7.3} w={600} a="middle" r={-90}>-log₁₀ P-value</T>
        <T x={627.7} y={154} s={6.6} w={700} a="middle">Correlation (24 M)</T>

        {/* f legends & texts */}
        <T x={387.7} y={173} s={8.5} a="middle" c="#333">Membership</T>
        <T x={480} y={173} s={8.4} a="middle" c="#333">Expression</T>
        <T x={520.7} y={184} s={8.7} w={700}>KEGG pathway</T>
        <rect x={359} y={181.7} width={62} height={5} fill="url(#mem)" />
        <rect x={448} y={181.7} width={62} height={5} fill="url(#exp)" />
        {[["0.4", 366], ["0.6", 386.7], ["0.8", 406.7]].map(([t, x]: any) => <T key={t} x={x} y={191.5} s={6.4} a="middle" c="#444">{t}</T>)}
        {[["−1.0", 450.7], ["−0.5", 464], ["0.0", 478], ["0.5", 491], ["1.0", 504]].map(([t, x]: any) => <T key={t} x={x} y={191.5} s={6.4} a="middle" c="#444">{t}</T>)}
        <T x={343} y={251} s={8.7} a="middle" r={-90}>Proteome</T>
        <T x={343} y={353} s={8.7} a="middle" r={-90}>Phosphoproteome</T>
        <T x={343} y={465} s={8.7} a="middle" r={-90}>Glycoproteome</T>
        {[363, 390, 420].map((x, i) => <T key={x} x={x} y={514} s={8} a="middle" c="#333">{timeLabels[i]}</T>)}
        {[446, 477, 507.7].map((x, i) => <T key={x} x={x} y={514} s={8} a="middle" c="#333">{timeLabels[i]}</T>)}
        {pathways.map(([t, y, hot]: any, i) => <T key={i} x={522} y={y} s={8.4} c={hot ? "#e8308f" : "#333"}>{t}</T>)}

        {/* g headers */}
        <T x={42} y={544} s={8.8} w={700} a="end">Samples</T>
        <T x={42} y={554.5} s={8.8} w={700} a="end">Omics</T>
        <T x={45} y={760} s={8.8} w={700} a="end">Function</T>
        {gSamples.map(([name, span, col]: any) => {
          const x = colToX(sampleStart), w = (span * 466.7) / 21;
          sampleStart += span;
          return (
            <g key={name}>
              <rect x={x} y={538.3} width={w} height={12.7} fill={col} />
              <T x={x + w / 2} y={544.5} s={8.3} w={700} a="middle">{name}</T>
            </g>
          );
        })}
        {gOmics.map(([col, span]: any, i) => {
          const x = colToX(omicsStart), w = (span * 466.7) / 21;
          omicsStart += span;
          return <rect key={i} x={x} y={551} width={w} height={8} fill={col} />;
        })}
        <rect x={48.3} y={560} width={466.7} height={193.3} fill="none" stroke="#1a1a1a" strokeWidth={1.1} />
        {runsOf(gRowFunction).map(([a, b], i) => (
          <rect key={i} x={38.3} y={560 + a * 12.08} width={9} height={(b - a) * 12.08} fill="none" stroke="#1a1a1a" strokeWidth={1} />
        ))}

        {/* g legends */}
        <T x={525} y={608} s={8.5} w={700}>Z score</T>
        <rect x={534} y={618} width={6} height={64} fill="url(#gz)" />
        {[["1.5", 618], ["1", 629], ["0.5", 640], ["0", 650.5], ["-0.5", 661.5], ["-1", 672], ["-1.5", 684]].map(([t, y]: any) => (
          <T key={t} x={546} y={y} s={6.5} a="middle" r={-90} c="#333">{t}</T>
        ))}
        <T x={566} y={564} s={8.5} w={700}>Omics</T>
        {omicsNames.map(([name, col, y, ty]: any) => (
          <g key={name}>
            <Swatch x={566.7} y={y} w={11.5} h={12} fill={col} />
            <T x={583} y={ty} s={8.4} c="#333">{name}</T>
          </g>
        ))}
        <T x={567} y={646} s={8.5} w={700}>Function</T>
        {gFunctions.map((f, i) => {
          const sy = [657, 673, 690, 708, 725, 742][i];
          const ty = [664, 680, 696, 714.3, 731, 748][i];
          return (
            <g key={f}>
              <Swatch x={567.5} y={sy} w={11.5} h={12} fill={gFunctionColors[i]} />
              <T x={585} y={ty} s={8.4} c="#333">{f}</T>
            </g>
          );
        })}
      </svg>
    </div>
  );
}
